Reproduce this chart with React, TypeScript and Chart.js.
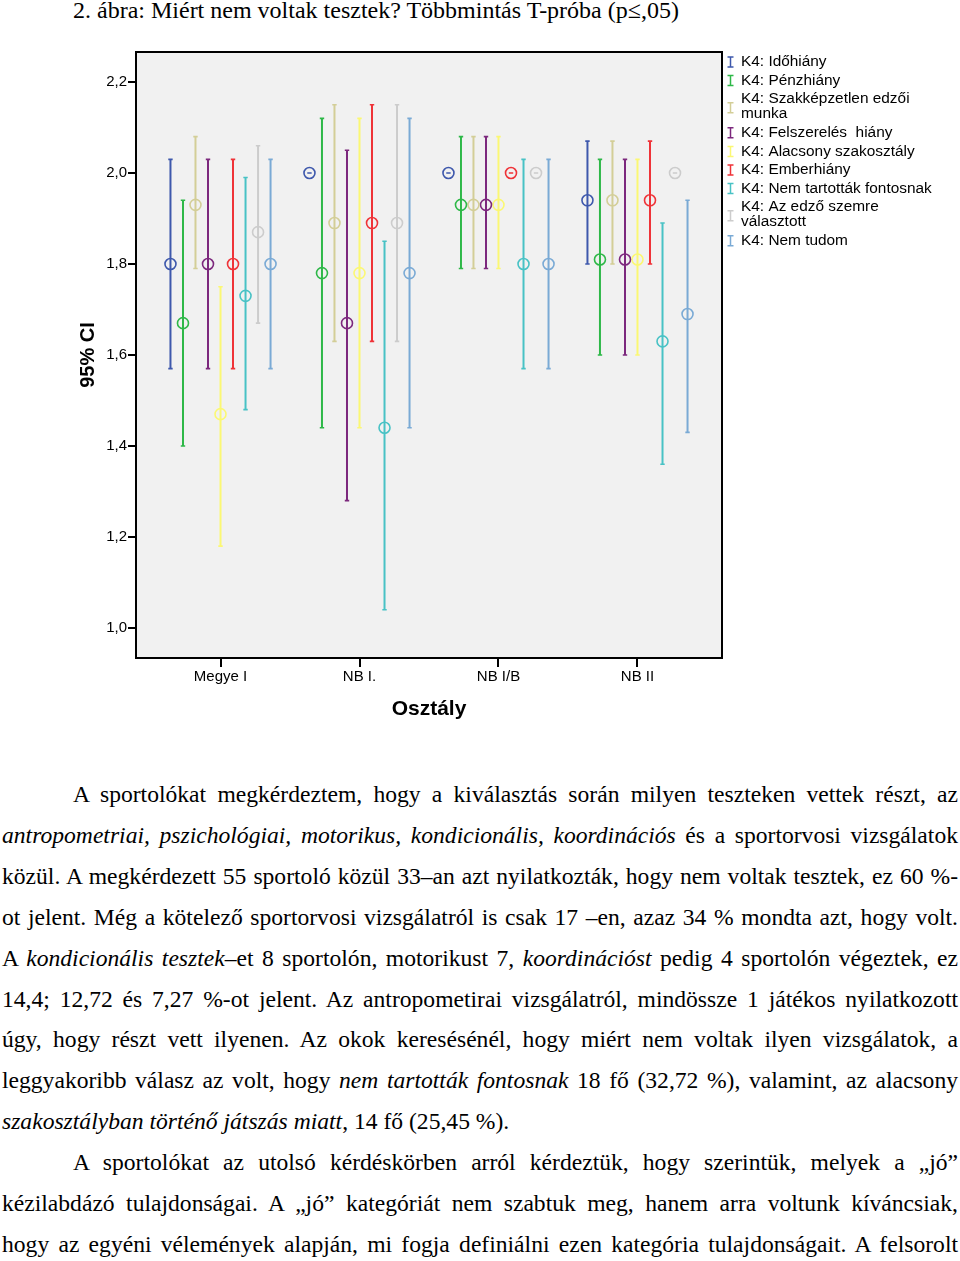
import React, { useEffect, useRef } from 'react';
import { Chart, registerables } from 'chart.js';

Chart.register(...registerables);

const categories = ['Megye I', 'NB I.', 'NB I/B', 'NB II'];
const yTickValues = [1.0, 1.2, 1.4, 1.6, 1.8, 2.0, 2.2];
const yTickLabels = ['1,0', '1,2', '1,4', '1,6', '1,8', '2,0', '2,2'];

const seriesLabels = [
  ['K4: Időhiány'],
  ['K4: Pénzhiány'],
  ['K4: Szakképzetlen edzői', 'munka'],
  ['K4: Felszerelés  hiány'],
  ['K4: Alacsony szakosztály'],
  ['K4: Emberhiány'],
  ['K4: Nem tartották fontosnak'],
  ['K4: Az edző szemre', 'választott'],
  ['K4: Nem tudom'],
];
const seriesColors = ['#3E58AC', '#2EB848', '#D3CE97', '#7C287D', '#FBF873', '#EF3338', '#48C2C5', '#CCCCCC', '#7AAAD5'];

// [lower 95% CI, mean, upper 95% CI] for Megye I, NB I., NB I/B, NB II
const idohiany = [[1.57, 1.8, 2.03], [2.0, 2.0, 2.0], [2.0, 2.0, 2.0], [1.8, 1.94, 2.07]];
const penzhiany = [[1.4, 1.67, 1.94], [1.44, 1.78, 2.12], [1.79, 1.93, 2.08], [1.6, 1.81, 2.03]];
const szakkepzetlen = [[1.79, 1.93, 2.08], [1.63, 1.89, 2.15], [1.79, 1.93, 2.08], [1.8, 1.94, 2.07]];
const felszereles = [[1.57, 1.8, 2.03], [1.28, 1.67, 2.05], [1.79, 1.93, 2.08], [1.6, 1.81, 2.03]];
const alacsony = [[1.18, 1.47, 1.75], [1.44, 1.78, 2.12], [1.79, 1.93, 2.08], [1.6, 1.81, 2.03]];
const emberhiany = [[1.57, 1.8, 2.03], [1.63, 1.89, 2.15], [2.0, 2.0, 2.0], [1.8, 1.94, 2.07]];
const nemTartottak = [[1.48, 1.73, 1.99], [1.04, 1.44, 1.85], [1.57, 1.8, 2.03], [1.36, 1.63, 1.89]];
const edzoSzemre = [[1.67, 1.87, 2.06], [1.63, 1.89, 2.15], [2.0, 2.0, 2.0], [2.0, 2.0, 2.0]];
const nemTudom = [[1.57, 1.8, 2.03], [1.44, 1.78, 2.12], [1.57, 1.8, 2.03], [1.43, 1.69, 1.94]];

const seriesData = [idohiany, penzhiany, szakkepzetlen, felszereles, alacsony, emberhiany, nemTartottak, edzoSzemre, nemTudom];

const dodge = 0.09;

const FONT = '"Liberation Sans", Arial, sans-serif';
Chart.defaults.font.family = FONT;
Chart.defaults.color = '#000';

const bgPlugin = {
  id: 'plotBg',
  beforeDraw(chart: any) {
    const { ctx, chartArea: a } = chart;
    ctx.save();
    ctx.fillStyle = '#F1F1F1';
    ctx.fillRect(a.left, a.top, a.right - a.left, a.bottom - a.top);
    ctx.restore();
  },
  afterDraw(chart: any) {
    const { ctx, chartArea: a } = chart;
    ctx.save();
    ctx.strokeStyle = '#000';
    ctx.lineWidth = 2;
    ctx.strokeRect(a.left, a.top, a.right - a.left, a.bottom - a.top);
    ctx.restore();
  },
};

const errorBarPlugin = {
  id: 'errorBars',
  beforeDatasetsDraw(chart: any) {
    const { ctx, scales } = chart;
    const xs = scales.x;
    const ys = scales.y;
    ctx.save();
    chart.data.datasets.forEach((ds: any) => {
      ds.data.forEach((pt: any) => {
        const px = xs.getPixelForValue(pt.x);
        const pLo = ys.getPixelForValue(pt.lo);
        const pHi = ys.getPixelForValue(pt.hi);
        ctx.strokeStyle = ds.borderColor;
        ctx.lineWidth = 2;
        if (pLo - pHi > 0.5) {
          ctx.beginPath();
          ctx.moveTo(px, pLo);
          ctx.lineTo(px, pHi);
          ctx.stroke();
        }
        ctx.lineWidth = 1.6;
        ctx.beginPath();
        ctx.moveTo(px - 2.2, pLo);
        ctx.lineTo(px + 2.2, pLo);
        ctx.moveTo(px - 2.2, pHi);
        ctx.lineTo(px + 2.2, pHi);
        ctx.stroke();
      });
    });
    ctx.restore();
  },
};

const legendPlugin = {
  id: 'spssLegend',
  afterDraw(chart: any) {
    const { ctx, chartArea } = chart;
    ctx.save();
    ctx.font = '15.4px ' + FONT;
    ctx.textBaseline = 'middle';
    ctx.textAlign = 'left';
    let y = 22;
    const symX = chartArea.right + 8.5;
    const textX = chartArea.right + 19;
    seriesLabels.forEach((lines, i) => {
      const n = lines.length;
      ctx.fillStyle = '#000';
      lines.forEach((t, j) => ctx.fillText(t, textX, y + j * 15));
      const cy = y + (n - 1) * 7.5 + (n > 1 ? 1 : 0);
      ctx.strokeStyle = seriesColors[i];
      ctx.lineWidth = 1.5;
      ctx.beginPath();
      ctx.moveTo(symX, cy - 5);
      ctx.lineTo(symX, cy + 5);
      ctx.moveTo(symX - 3, cy - 5);
      ctx.lineTo(symX + 3, cy - 5);
      ctx.moveTo(symX - 3, cy + 5);
      ctx.lineTo(symX + 3, cy + 5);
      ctx.stroke();
      y += 18.6 + (n - 1) * 15;
    });
    ctx.restore();
  },
};

const paraLines: Array<{ parts: Array<[string, boolean]>; indent?: boolean; last?: boolean }> = [
  { parts: [['A sportolókat megkérdeztem, hogy a kiválasztás során milyen teszteken vettek részt, az', false]], indent: true },
  { parts: [['antropometriai, pszichológiai, motorikus, kondicionális, koordinációs', true], [' és a sportorvosi vizsgálatok', false]] },
  { parts: [['közül. A megkérdezett 55 sportoló közül 33–an azt nyilatkozták, hogy nem voltak tesztek, ez 60 %-', false]] },
  { parts: [['ot jelent. Még a kötelező sportorvosi vizsgálatról is csak 17 –en, azaz 34 % mondta azt, hogy volt.', false]] },
  { parts: [['A ', false], ['kondicionális tesztek', true], ['–et 8 sportolón, motorikust 7, ', false], ['koordinációst', true], [' pedig 4 sportolón végeztek, ez', false]] },
  { parts: [['14,4; 12,72 és 7,27 %-ot jelent. Az antropometirai vizsgálatról, mindössze 1 játékos nyilatkozott', false]] },
  { parts: [['úgy, hogy részt vett ilyenen. Az okok keresésénél, hogy miért nem voltak ilyen vizsgálatok, a', false]] },
  { parts: [['leggyakoribb válasz az volt, hogy ', false], ['nem tartották fontosnak', true], [' 18 fő (32,72 %), valamint, az alacsony', false]] },
  { parts: [['szakosztályban történő játszás miatt', true], [', 14 fő (25,45 %).', false]], last: true },
  { parts: [['A sportolókat az utolsó kérdéskörben arról kérdeztük, hogy szerintük, melyek a „jó”', false]], indent: true },
  { parts: [['kézilabdázó tulajdonságai. A „jó” kategóriát nem szabtuk meg, hanem arra voltunk kíváncsiak,', false]] },
  { parts: [['hogy az egyéni vélemények alapján, mi fogja definiálni ezen kategória tulajdonságait. A felsorolt', false]] },
];

const SERIF = '"Liberation Serif", "Times New Roman", serif';

export default function App() {
  const ref = useRef<HTMLCanvasElement>(null);

  useEffect(() => {
    const chart = new Chart(ref.current as HTMLCanvasElement, {
      type: 'scatter',
      data: {
        datasets: seriesData.map((d, i) => ({
          label: seriesLabels[i].join(' '),
          data: d.map((v, j) => ({ x: j + (i - 4) * dodge, y: v[1], lo: v[0], hi: v[2] })),
          borderColor: seriesColors[i],
          backgroundColor: 'rgba(0,0,0,0)',
          pointBackgroundColor: 'rgba(0,0,0,0)',
          pointBorderColor: seriesColors[i],
          pointRadius: 5.5,
          pointHoverRadius: 5.5,
          pointBorderWidth: 1.6,
          pointStyle: 'circle',
          showLine: false,
        })) as any,
      },
      options: {
        responsive: false,
        animation: false,
        events: [],
        layout: { padding: { left: 76, right: 238, top: 12, bottom: 2 } },
        plugins: { legend: { display: false }, tooltip: { enabled: false } },
        scales: {
          x: {
            type: 'linear',
            min: -0.608,
            max: 3.608,
            afterBuildTicks: (s: any) => {
              s.ticks = categories.map((_, i) => ({ value: i }));
            },
            afterFit: (s: any) => {
              s.height = 80;
            },
            ticks: {
              callback: (_v: any, i: number) => categories[i],
              color: '#000',
              font: { size: 15 },
              padding: 1,
              maxRotation: 0,
              autoSkip: false,
            },
            grid: { drawOnChartArea: false, drawTicks: true, tickLength: 9, color: '#000', lineWidth: 2 },
            border: { display: true, color: '#000', width: 2 },
            title: {
              display: true,
              text: 'Osztály',
              color: '#000',
              font: { size: 21, weight: 'bold' },
              padding: { top: 0, bottom: 16 },
            },
          },
          y: {
            type: 'linear',
            min: 0.934,
            max: 2.266,
            afterBuildTicks: (s: any) => {
              s.ticks = yTickValues.map((v) => ({ value: v }));
            },
            afterFit: (s: any) => {
              s.width = 60;
            },
            ticks: {
              callback: (_v: any, i: number) => yTickLabels[i],
              color: '#000',
              font: { size: 15 },
              padding: 1,
              autoSkip: false,
            },
            grid: { drawOnChartArea: false, drawTicks: true, tickLength: 8, color: '#000', lineWidth: 2 },
            border: { display: true, color: '#000', width: 2 },
            title: {
              display: true,
              text: '95% CI',
              color: '#000',
              font: { size: 20, weight: 'bold' },
              padding: { top: 0, bottom: 0 },
            },
          },
        },
      } as any,
      plugins: [bgPlugin, errorBarPlugin, legendPlugin],
    });
    return () => chart.destroy();
  }, []);

  return (
    <div style={{ position: 'absolute', left: 0, top: 0, width: 960, height: 1261, background: '#fff', overflow: 'hidden' }}>
      <div
        style={{
          position: 'absolute',
          left: 73,
          top: -2,
          fontFamily: SERIF,
          fontSize: 24,
          lineHeight: '24px',
          whiteSpace: 'nowrap',
          color: '#000',
        }}
      >
        2. ábra: Miért nem voltak tesztek? Többmintás T-próba (p≤,05)
      </div>
      <canvas
        ref={ref}
        width={960}
        height={700}
        style={{ position: 'absolute', left: 0, top: 40, width: 960, height: 700 }}
      />
      {paraLines.map((ln, i) => (
        <div
          key={i}
          style={{
            position: 'absolute',
            left: ln.indent ? 73 : 2,
            width: ln.indent ? 885 : 956,
            top: 774 + i * 40.9,
            height: 41,
            fontFamily: SERIF,
            fontSize: 23.6,
            lineHeight: '41px',
            whiteSpace: 'nowrap',
            textAlign: ln.last ? 'left' : 'justify',
            textAlignLast: ln.last ? 'left' : 'justify',
            color: '#000',
          } as any}
        >
          {ln.parts.map(([t, it], k) => (
            <span key={k} style={{ fontStyle: it ? 'italic' : 'normal' }}>
              {t}
            </span>
          ))}
        </div>
      ))}
    </div>
  );
}
